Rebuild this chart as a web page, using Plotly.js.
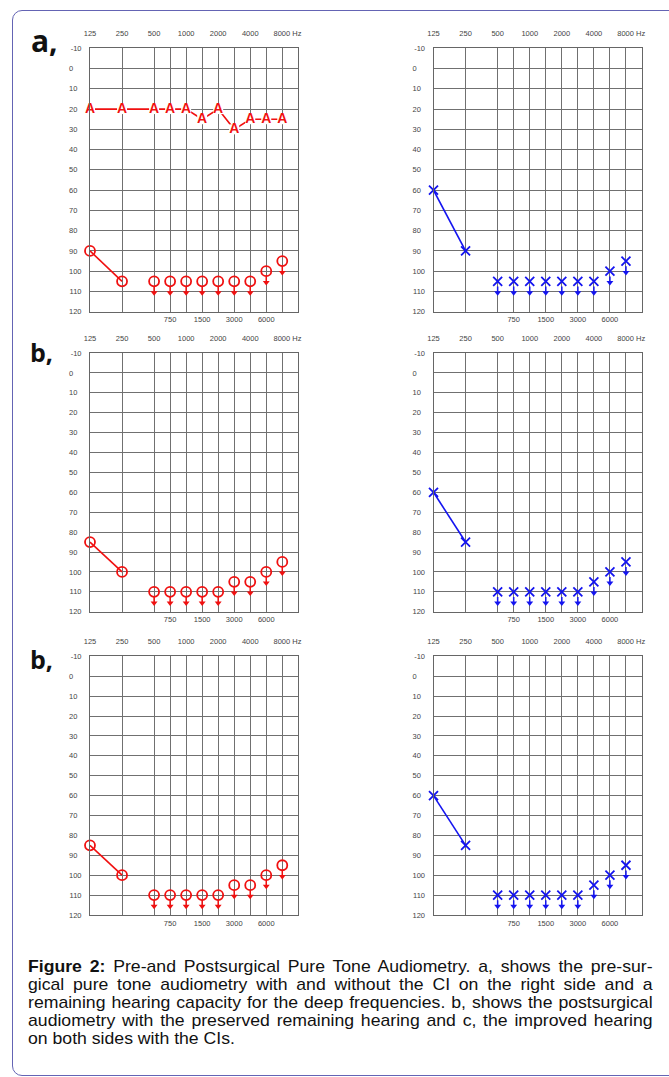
<!DOCTYPE html>
<html><head><meta charset="utf-8">
<script src="https://cdn.plot.ly/plotly-3.0.1.min.js"></script>
<style>
html,body{margin:0;padding:0;background:#fff;}
#wrap{position:relative;width:669px;height:1077px;overflow:hidden;background:#fff;}
#chart{position:absolute;left:0;top:0;width:669px;height:1077px;}
#frame{position:absolute;left:11.5px;top:9.5px;width:800px;height:1064px;border:1.3px solid #6464b4;border-radius:10px;pointer-events:none;}
#caption{position:absolute;left:28px;top:957px;width:573px;transform:scaleX(1.09);transform-origin:0 0;font-family:"Liberation Sans",Arial,sans-serif;font-size:16.2px;line-height:18.1px;color:#111;}
#caption .j{text-align:justify;text-align-last:justify;white-space:nowrap;}
#caption .l{text-align:left;white-space:nowrap;}
</style></head>
<body><div id="wrap"><div id="chart"></div><div id="frame"></div>
<div id="caption">
<div class="j"><b>Figure 2:</b> Pre-and Postsurgical Pure Tone Audiometry. a, shows the pre-sur-</div>
<div class="j">gical pure tone audiometry with and without the CI on the right side and a</div>
<div class="j">remaining hearing capacity for the deep frequencies. b, shows the postsurgical</div>
<div class="j">audiometry with the preserved remaining hearing and c, the improved hearing</div>
<div class="l">on both sides with the CIs.</div>
</div></div>
<script>
// ---------- data ----------
const freqs = [125, 250, 500, 750, 1000, 1500, 2000, 3000, 4000, 6000, 8000];
const topTickFreqs = [125, 250, 500, 1000, 2000, 4000, 8000];
const topTickText = ['125', '250', '500', '1000', '2000', '4000', '\u00a0\u00a0\u00a0\u00a0\u00a08000 Hz'];
const bottomTickFreqs = [750, 1500, 3000, 6000];
const bottomTickText = ['750', '1500', '3000', '6000'];
const dbTicks = [-10, 0, 10, 20, 30, 40, 50, 60, 70, 80, 90, 100, 110, 120];
const panelLabels = ['a,', 'b,', 'b,'];

// a: pre-surgical
const aAidedCI = [20, 20, 20, 20, 20, 25, 20, 30, 25, 25, 25];      // "A" symbols
const aRightAir = [90, 105, 105, 105, 105, 105, 105, 105, 105, 100, 95]; // red O
const aLeftAir = [60, 90, 105, 105, 105, 105, 105, 105, 105, 100, 95];   // blue X
// b: postsurgical
const bRightAir = [85, 100, 110, 110, 110, 110, 110, 105, 105, 100, 95];
const bLeftAir = [60, 85, 110, 110, 110, 110, 110, 110, 105, 100, 95];
// c: with both CIs (labelled "b," in the figure)
const cRightAir = [85, 100, 110, 110, 110, 110, 110, 105, 105, 100, 95];
const cLeftAir = [60, 85, 110, 110, 110, 110, 110, 110, 105, 100, 95];
// 1 = no response at maximum output (drawn with arrow)
const noResponse = [0, 0, 1, 1, 1, 1, 1, 1, 1, 1, 1];

// ---------- audiogram frequency scale: octaves 2 units, inter-octaves at midpoint ----------
function octPos(f) {
  const o = Math.log2(f / 125);
  const k = Math.floor(o + 1e-9);
  return 2 * k + (o - k > 1e-6 ? 1 : 0);
}
// left-aligned look for dB labels (pad with figure spaces)
const dbTickText = dbTicks.map(v => { const s = String(v); return s + '\u2007'.repeat(Math.max(0, 3 - s.length)); });

const W = 669, H = 1077;
const cols = [[90, 298.3], [433.5, 642]];
const rows = [[48.3, 311.7], [353, 611.7], [656.3, 915]];
const RED = '#f01010', BLUE = '#1414f0';
const gridC = '#707070';
const tickFont = {family: 'Liberation Sans, Arial, sans-serif', size: 7.5, color: '#444'};

const layout = {
  width: W, height: H, margin: {l: 0, r: 0, t: 0, b: 0},
  paper_bgcolor: 'rgba(0,0,0,0)', plot_bgcolor: 'rgba(0,0,0,0)',
  showlegend: false, annotations: []
};
const traces = [];

const panels = [
  {row: 0, col: 0, vals: aRightAir, color: RED, sym: 'circle-open', aided: aAidedCI},
  {row: 0, col: 1, vals: aLeftAir, color: BLUE, sym: 'x-thin-open'},
  {row: 1, col: 0, vals: bRightAir, color: RED, sym: 'circle-open'},
  {row: 1, col: 1, vals: bLeftAir, color: BLUE, sym: 'x-thin-open'},
  {row: 2, col: 0, vals: cRightAir, color: RED, sym: 'circle-open'},
  {row: 2, col: 1, vals: cLeftAir, color: BLUE, sym: 'x-thin-open'}
];

panels.forEach((p, i) => {
  const n = i + 1;
  const xt = 2 * n - 1, xb = 2 * n;
  const xtId = 'x' + (xt === 1 ? '' : xt), xbId = 'x' + xb, yId = 'y' + (n === 1 ? '' : n);
  const xd = [cols[p.col][0] / W, cols[p.col][1] / W];
  const yd = [1 - rows[p.row][1] / H, 1 - rows[p.row][0] / H];
  const common = {range: [0, 13], showgrid: true, gridcolor: gridC, gridwidth: 1, zeroline: false,
    ticks: '', tickfont: tickFont, fixedrange: true, tickmode: 'array', visible: true};
  layout['xaxis' + (xt === 1 ? '' : xt)] = Object.assign({}, common, {
    domain: xd, anchor: yId, side: 'top',
    tickvals: topTickFreqs.map(octPos), ticktext: topTickText,
    showline: true, mirror: true, linecolor: '#666', linewidth: 1, ticklabelstandoff: 8
  });
  layout['xaxis' + xb] = Object.assign({}, common, {
    overlaying: xtId, anchor: yId, side: 'bottom',
    tickvals: bottomTickFreqs.map(octPos), ticktext: bottomTickText, showline: false, ticklabelstandoff: 2
  });
  layout['yaxis' + (n === 1 ? '' : n)] = {
    domain: yd, anchor: xtId, range: [120, -10], tickmode: 'array', tickvals: dbTicks, ticktext: dbTickText,
    showgrid: true, gridcolor: gridC, gridwidth: 1, zeroline: false, showline: true, mirror: true,
    linecolor: '#666', linewidth: 1, ticks: '', tickfont: tickFont, fixedrange: true, ticklabelstandoff: 6
  };

  const xAll = freqs.map(octPos);
  // bind the lower (inter-octave) axis so it is drawn
  traces.push({x: [xAll[0]], y: [null], xaxis: xbId, yaxis: yId, mode: 'markers',
    marker: {opacity: 0}, hoverinfo: 'skip'});
  const conX = [], conY = [], nrX = [], nrY = [];
  freqs.forEach((f, k) => {
    if (noResponse[k]) { nrX.push(octPos(f)); nrY.push(p.vals[k]); }
    else { conX.push(octPos(f)); conY.push(p.vals[k]); }
  });
  // connected responses
  traces.push({x: conX, y: conY, xaxis: xtId, yaxis: yId, mode: 'lines',
    line: {color: p.color, width: 1.6}, hoverinfo: 'skip', cliponaxis: false});
  // no-response arrows (stem + head below the symbol)
  traces.push({x: nrX, y: nrY.map(v => v + 5.6), xaxis: xtId, yaxis: yId, mode: 'markers',
    marker: {symbol: 'triangle-down', size: 6, color: p.color},
    error_y: {type: 'data', symmetric: false, array: nrY.map(() => 0), arrayminus: nrY.map(() => 3.0),
      width: 0, thickness: 1.5, color: p.color},
    hoverinfo: 'skip', cliponaxis: false});
  // symbols
  traces.push({x: xAll, y: p.vals, xaxis: xtId, yaxis: yId, mode: 'markers',
    marker: {symbol: p.sym, size: p.sym === 'circle-open' ? 10 : 9, color: p.color,
      line: {color: p.color, width: 1.8}},
    hoverinfo: 'skip', cliponaxis: false});
  if (p.aided) {
    traces.push({x: xAll, y: p.aided, xaxis: xtId, yaxis: yId, mode: 'lines+markers+text',
      text: p.aided.map(() => 'A'), textposition: 'middle center',
      textfont: {family: 'Liberation Sans, Arial, sans-serif', size: 14, color: p.color, weight: 'bold'},
      line: {color: p.color, width: 1.6},
      marker: {symbol: 'square', size: 10, color: '#ffffff', line: {width: 0}},
      hoverinfo: 'skip', cliponaxis: false});
  }
});

// panel letters
const labelPos = [[44, 40, 30], [41, 352, 25], [41, 659, 25]];
panelLabels.forEach((t, r) => {
  layout.annotations.push({xref: 'paper', yref: 'paper', x: labelPos[r][0] / W, y: 1 - labelPos[r][1] / H,
    xanchor: 'center', yanchor: 'middle', showarrow: false, text: '<b>' + t + '</b>',
    font: {family: 'Open Sans, sans-serif', size: labelPos[r][2], color: '#111'}});
});

Plotly.newPlot('chart', traces, layout, {staticPlot: true, displayModeBar: false});
</script>
</body></html>
